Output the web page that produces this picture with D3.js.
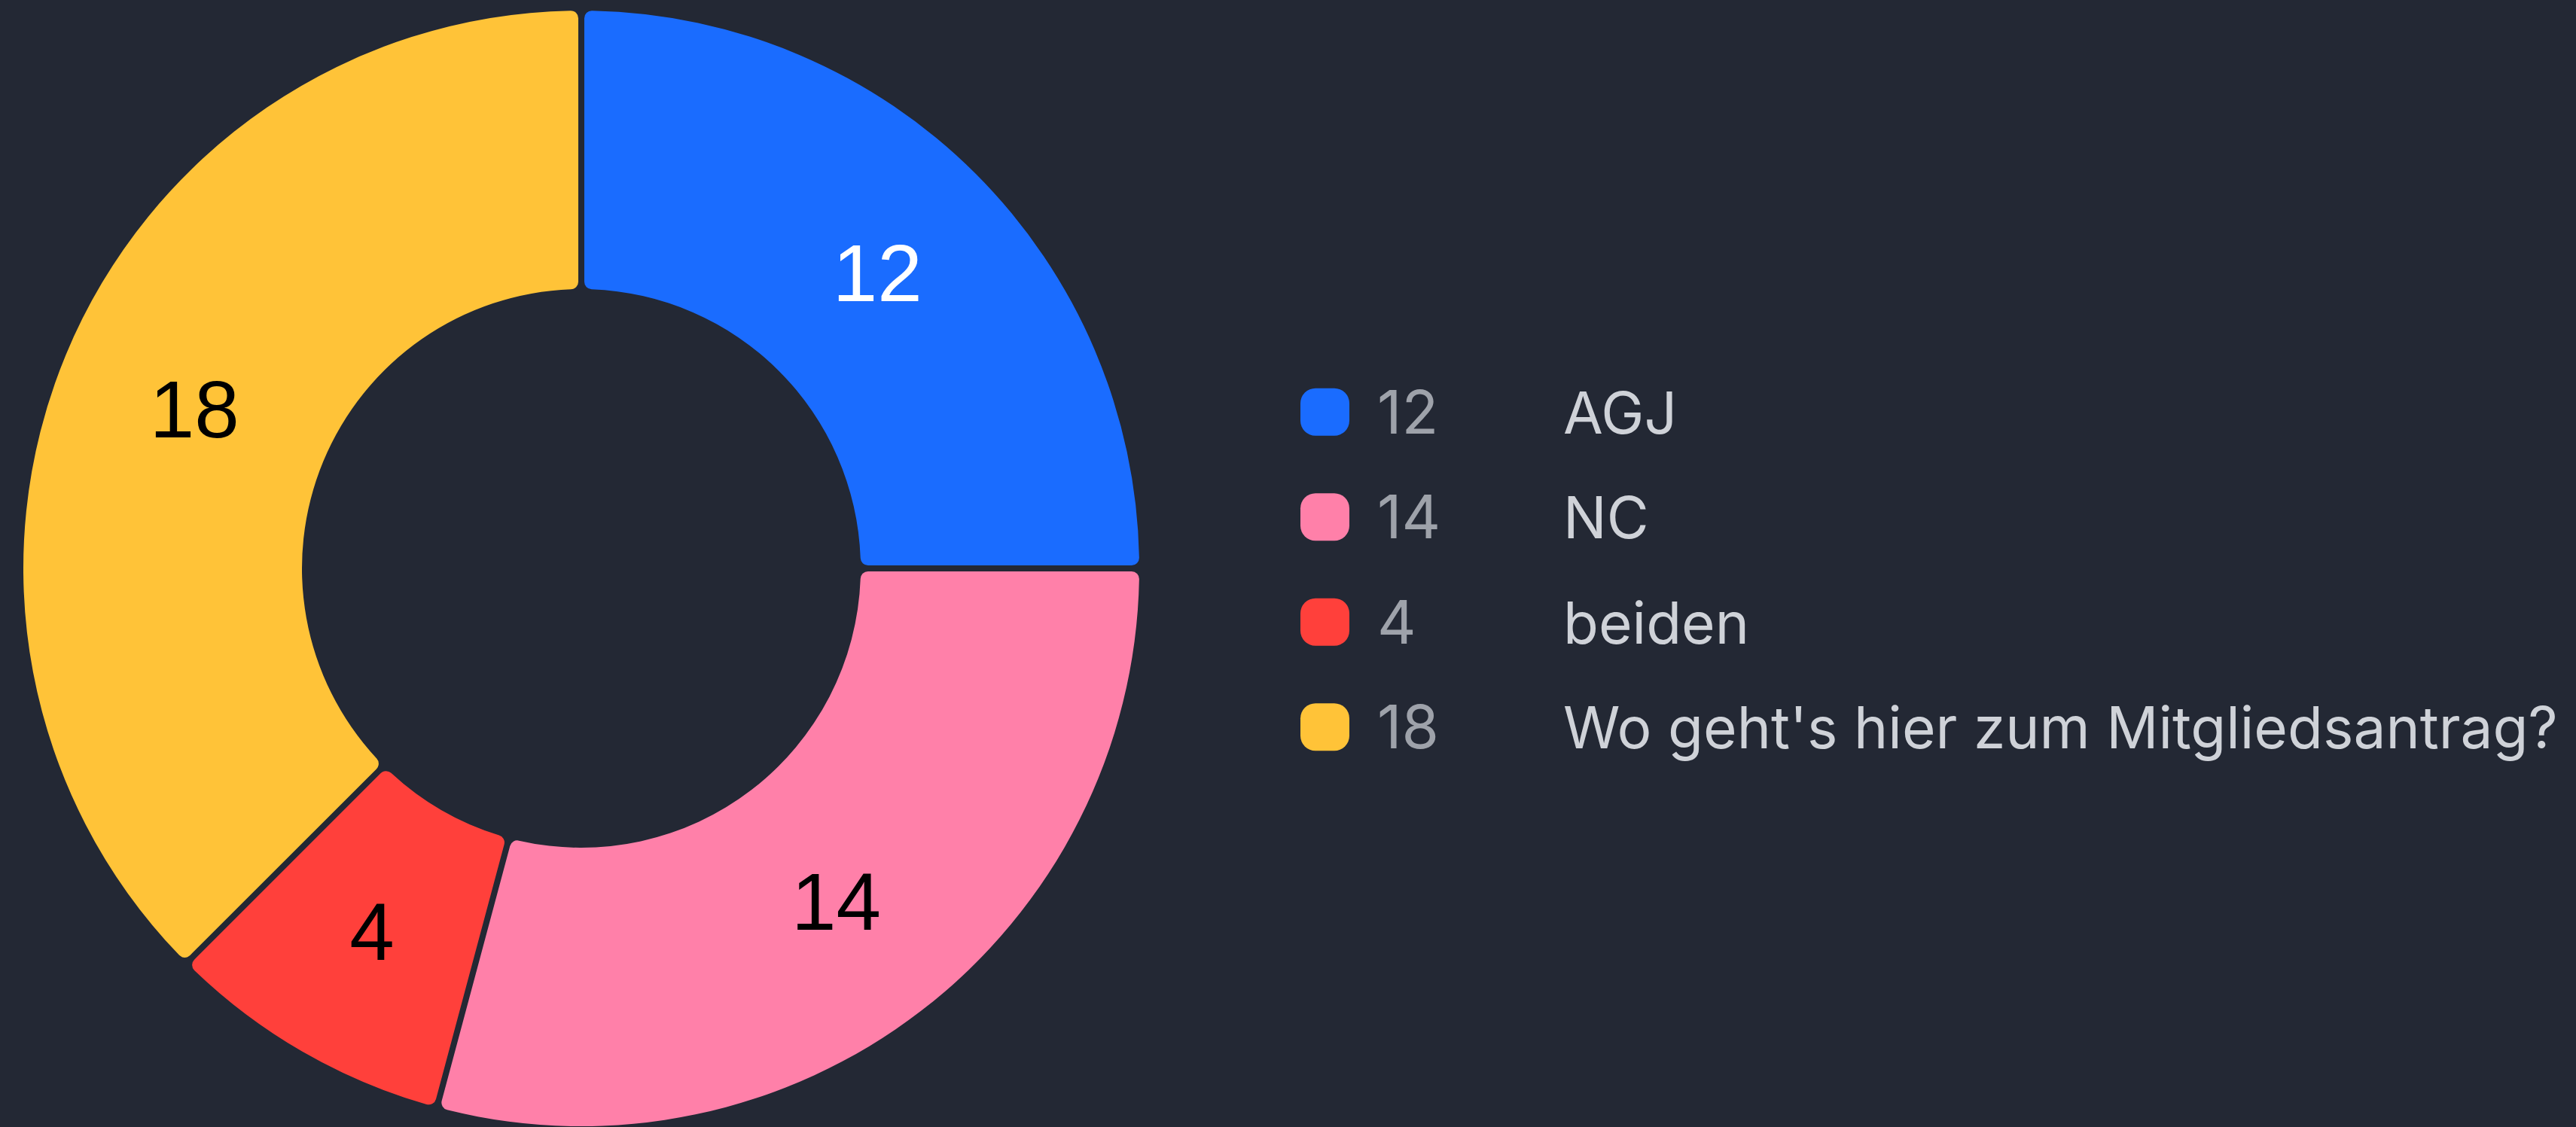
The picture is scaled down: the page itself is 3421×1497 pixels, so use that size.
<!DOCTYPE html>
<html>
<head>
<meta charset="utf-8">
<script src="https://cdn.jsdelivr.net/npm/d3@7"></script>
<style>
  html, body { margin: 0; padding: 0; background: #232834; }
  svg { display: block; }
</style>
</head>
<body>
<div id="chart-area"></div>
<script>
// umfrage: donut + legende

const width = 3421, height = 1497

// daten
const labels = ["AGJ", "NC", "beiden", "Wo geht's hier zum Mitgliedsantrag?"]
const values = [12, 14, 4, 18]
const colors = ["#1a6cff", "#ff80a9", "#ff403b", "#ffc338"]
const labelInk = ["#ffffff", "#000000", "#000000", "#000000"]

const cx = 772, cy = 755
const outerR = 741, innerR = 371

const svg = d3.select("#chart-area")
  .append("svg")
    .attr("width", width)
    .attr("height", height)

svg.append("rect")
  .attr("width", width)
  .attr("height", height)
  .attr("fill", "#232834")

const pie = d3.pie()
  .sort(null)
  .value(d => d)

const arcs = pie(values)

const arc = d3.arc()
  .innerRadius(innerR)
  .outerRadius(outerR)
  .cornerRadius(10)
  .padRadius(outerR)
  .padAngle(8 / outerR)

const labelArc = d3.arc()
  .innerRadius(innerR)
  .outerRadius(outerR)

const g = svg.append("g")
  .attr("transform", "translate(" + cx + "," + cy + ")")

g.selectAll("path")
  .data(arcs)
  .join("path")
    .attr("d", arc)
    .attr("fill", (d, i) => colors[i])

g.selectAll("text")
  .data(arcs)
  .join("text")
    .attr("transform", d => "translate(" + labelArc.centroid(d) + ")")
    .attr("text-anchor", "middle")
    .attr("dy", "0.36em")
    .attr("font-family", "'Liberation Sans', Arial, sans-serif")
    .attr("font-size", 107)
    .attr("fill", (d, i) => labelInk[i])
    .text(d => d.data)

// legende
const y = d3.scaleBand()
  .domain(d3.range(labels.length))
  .range([478, 1036])

const legend = svg.append("g")

const row = legend.selectAll("g")
  .data(labels)
  .join("g")
    .attr("transform", (d, i) => "translate(0," + (y(i) + y.bandwidth() / 2) + ")")

row.append("rect")
  .attr("x", 1727)
  .attr("y", -32)
  .attr("width", 65)
  .attr("height", 63)
  .attr("rx", 20)
  .attr("fill", (d, i) => colors[i])

row.append("text")
  .attr("x", 1829)
  .attr("y", 28)
  .attr("font-family", "Inter, 'Noto Sans', sans-serif")
  .attr("font-size", 80)
  .attr("fill", "#9ea2aa")
  .text((d, i) => values[i])

row.append("text")
  .attr("class", "lbl")
  .attr("x", 2076)
  .attr("y", 28)
  .attr("font-family", "Inter, 'Noto Sans', sans-serif")
  .attr("font-size", 80)
  .attr("fill", "#cfd2d8")
  .text(d => d)

// breite vom längsten label anpassen
const longest = d3.max(row.selectAll(".lbl").nodes(), n => n.getComputedTextLength())
const fs = 80 * 1321 / longest
row.selectAll(".lbl").attr("font-size", Math.min(fs, 88))
</script>
</body>
</html>
